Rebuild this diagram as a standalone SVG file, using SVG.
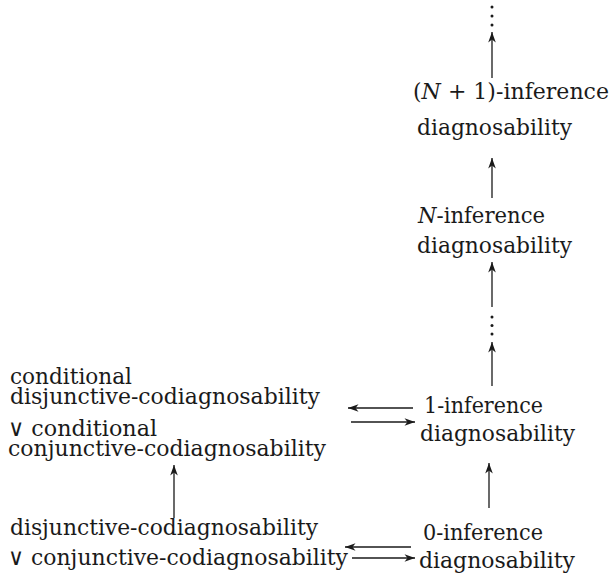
<svg xmlns="http://www.w3.org/2000/svg" width="614" height="576" viewBox="0 0 614 576">
<style>
text{font-family:'DejaVu Serif','Liberation Serif',serif;font-size:23px;fill:#1a1a1a}
.e{stroke:#1a1a1a;stroke-width:1.3;fill:none;marker-end:url(#ah)}
.d{fill:#1a1a1a}
</style>
<defs>
<marker id="ah" markerUnits="userSpaceOnUse" markerWidth="14" markerHeight="10" viewBox="-11 -5 12 10" refX="0" refY="0" orient="auto">
<path d="M0,0 L-10.5,-3.8 L-7.5,0 L-10.5,3.8 Z" fill="#1a1a1a"/>
</marker>
</defs>
<rect width="614" height="576" fill="#fff"/>
<g id="dots-top"><circle class="d" cx="492" cy="7" r="1.5"/><circle class="d" cx="492" cy="16" r="1.5"/><circle class="d" cx="492" cy="25" r="1.5"/></g>
<g id="n-plus-1"><text x="413" y="99" style="font-size:21.5px" textLength="196" lengthAdjust="spacingAndGlyphs">(<tspan font-style="italic">N</tspan> + 1)-inference</text><text x="417" y="135" textLength="155" lengthAdjust="spacingAndGlyphs">diagnosability</text></g>
<g id="n-inf"><text x="418" y="223" textLength="127" lengthAdjust="spacingAndGlyphs"><tspan font-style="italic">N</tspan>-inference</text><text x="417" y="253" textLength="155" lengthAdjust="spacingAndGlyphs">diagnosability</text></g>
<g id="dots-mid"><circle class="d" cx="492" cy="317" r="1.5"/><circle class="d" cx="492" cy="325.5" r="1.5"/><circle class="d" cx="492" cy="334" r="1.5"/></g>
<g id="one-inf"><text x="424" y="413" textLength="119" lengthAdjust="spacingAndGlyphs">1-inference</text><text x="420" y="441" textLength="155" lengthAdjust="spacingAndGlyphs">diagnosability</text></g>
<g id="zero-inf"><text x="423" y="540" textLength="120" lengthAdjust="spacingAndGlyphs">0-inference</text><text x="419" y="568" textLength="156" lengthAdjust="spacingAndGlyphs">diagnosability</text></g>
<g id="cond-codiag"><text x="10" y="384" textLength="122" lengthAdjust="spacingAndGlyphs">conditional</text><text x="10" y="404" textLength="310" lengthAdjust="spacingAndGlyphs">disjunctive-codiagnosability</text><text x="8" y="436" textLength="149" lengthAdjust="spacingAndGlyphs">∨ conditional</text><text x="8" y="456" textLength="318" lengthAdjust="spacingAndGlyphs">conjunctive-codiagnosability</text></g>
<g id="codiag"><text x="10" y="535" textLength="308" lengthAdjust="spacingAndGlyphs">disjunctive-codiagnosability</text><text x="8" y="565" textLength="340" lengthAdjust="spacingAndGlyphs">∨ conjunctive-codiagnosability</text></g>
<g id="connectors">
<line class="e" x1="492" y1="78" x2="492" y2="32"/>
<line class="e" x1="492" y1="198" x2="492" y2="158"/>
<line class="e" x1="492" y1="307" x2="492" y2="262"/>
<line class="e" x1="492" y1="386" x2="492" y2="342"/>
<line class="e" x1="489" y1="508" x2="489" y2="463"/>
<line class="e" x1="174" y1="518" x2="174" y2="465"/>
<line class="e" x1="413" y1="408" x2="348" y2="408"/>
<line class="e" x1="351" y1="422" x2="415" y2="422"/>
<line class="e" x1="411" y1="547" x2="345" y2="547"/>
<line class="e" x1="352" y1="558" x2="415" y2="558"/>
</g>
</svg>
